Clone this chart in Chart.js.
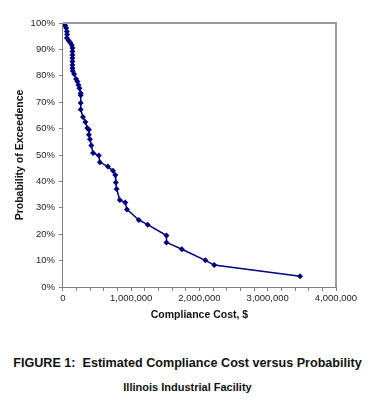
<!DOCTYPE html>
<html>
<head>
<meta charset="utf-8">
<script src="https://cdn.jsdelivr.net/npm/chart.js@4"></script>
<style>
    body { margin: 0; background: #fff; }
    #wrap { position: relative; width: 375px; height: 407px; }
    #chart { position: absolute; left: 0; top: 0; }
    .cap { position: absolute; left: 0; width: 375px; text-align: center; font-family: "Liberation Sans", Arial, sans-serif; font-weight: bold; color: #111; }
</style>
</head>
<body>
<div id="wrap">
    <canvas id="chart" width="375" height="330"></canvas>
    <div class="cap" style="top: 356px; font-size: 12.6px;">FIGURE 1:&nbsp; Estimated Compliance Cost versus Probability</div>
    <div class="cap" style="top: 381px; font-size: 11px;">Illinois Industrial Facility</div>
</div>
<script>
// compliance cost ($) and probability of exceedence (%)
const costs = [
    19000, 33000, 48000, 58000, 62000, 58000, 83000, 106000, 130000, 140000,
    140000, 140000, 140000, 140000, 140000, 140000, 145000, 164000, 193000, 213000,
    228000, 242000, 261000, 261000, 261000, 261000, 294000, 329000, 358000, 381000,
    381000, 396000, 416000, 442000, 526000, 541000, 659000, 734000, 768000, 775000,
    787000, 833000, 913000, 938000, 1112000, 1242000, 1517000, 1517000, 1743000, 2087000,
    2217000, 3474000
];
const probs = [
    100, 99.1, 98.1, 96.8, 95.6, 94.3, 93.4, 92.6, 91.7, 90.5,
    89.2, 87.9, 86.7, 85.4, 84.1, 82.9, 81.8, 80.7, 78.8, 77.8,
    76.5, 75.3, 73.4, 72.6, 69.7, 67.2, 64.4, 62.5, 60.2, 59.6,
    57.7, 56.0, 53.6, 50.8, 49.8, 47.3, 45.6, 44.0, 42.4, 39.6,
    37.1, 33.0, 32.0, 29.4, 25.4, 23.6, 19.5, 16.9, 14.3, 10.1,
    8.3, 4.1
];
const xMax = 4000000;
const yTicks = [0, 10, 20, 30, 40, 50, 60, 70, 80, 90, 100];

const points = costs.map((c, i) => ({x: c, y: probs[i]}));

const frame = {
    id: 'frame',
    afterDraw(chart) {
        const {ctx, chartArea: a} = chart;
        ctx.save();
        ctx.strokeStyle = '#9a9a9a';
        ctx.lineWidth = 2;
        ctx.beginPath();
        ctx.moveTo(a.left, a.top);
        ctx.lineTo(a.right, a.top);
        ctx.lineTo(a.right, a.bottom);
        ctx.stroke();
        ctx.restore();
    }
};

const font = {family: '"Liberation Sans", Arial, sans-serif'};

new Chart(document.getElementById('chart'), {
    type: 'line',
    data: {
        datasets: [{
            data: points,
            borderColor: '#000080',
            backgroundColor: '#000080',
            borderWidth: 1.5,
            pointStyle: 'rectRot',
            pointRadius: 3,
            pointBorderWidth: 0,
            tension: 0
        }]
    },
    options: {
        responsive: false,
        animation: false,
        layout: {padding: {top: 23, right: 39, left: 14, bottom: 5}},
        plugins: {legend: {display: false}, tooltip: {enabled: false}},
        scales: {
            x: {
                type: 'linear',
                min: 0,
                max: xMax,
                ticks: {
                    stepSize: 200000,
                    autoSkip: false,
                    maxRotation: 0,
                    padding: 2,
                    color: '#222',
                    font: {...font, size: 9.5},
                    callback: (v) => v % 1000000 === 0 ? v.toLocaleString('en-US') : ''
                },
                grid: {drawOnChartArea: false, tickLength: 4, color: '#808080'},
                border: {color: '#808080', width: 1},
                title: {
                    display: true,
                    text: 'Compliance Cost, $',
                    color: '#111',
                    padding: {top: 2},
                    font: {...font, size: 10.5, weight: 'bold'}
                }
            },
            y: {
                min: 0,
                max: 100,
                afterBuildTicks: (axis) => { axis.ticks = yTicks.map(v => ({value: v})); },
                ticks: {
                    padding: 4,
                    color: '#222',
                    font: {...font, size: 9.5},
                    callback: (v) => v + '%'
                },
                grid: {drawOnChartArea: false, tickLength: 4, color: '#808080'},
                border: {color: '#808080', width: 1},
                title: {
                    display: true,
                    text: 'Probability of Exceedence',
                    color: '#111',
                    padding: {top: 0, bottom: 0},
                    font: {...font, size: 10.5, weight: 'bold'}
                }
            }
        }
    },
    plugins: [frame]
});
</script>
</body>
</html>
